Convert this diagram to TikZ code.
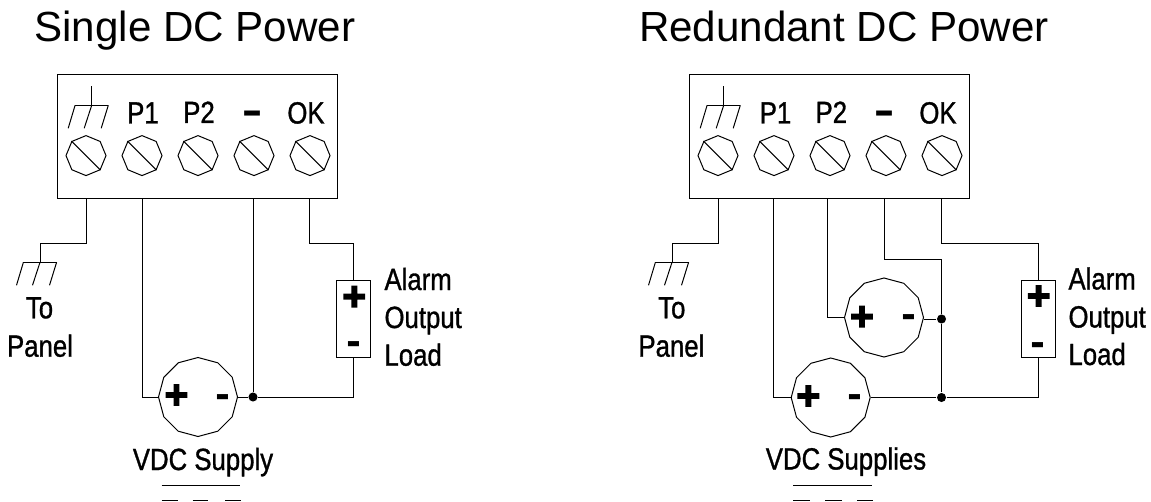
\documentclass[tikz,border=0pt]{standalone}
\usepackage{fontspec}
\setmainfont{Liberation Sans}
\newfontfamily\narrowfont[FakeStretch=0.84,FakeBold=1]{Liberation Sans}
\newfontfamily\signfont[BoldFont={DejaVu Sans Bold}]{DejaVu Sans}
\newfontfamily\plusfont[FakeBold=12]{DejaVu Sans}
\usetikzlibrary{shapes.geometric}
\tikzset{
  x=0.75pt,y=-0.75pt,
  every path/.style={line width=0.75pt,line join=miter},
  termbox/.style={draw,rectangle,inner sep=0pt,minimum width=210pt,minimum height=92.4pt},
  screw/.style={draw,regular polygon,regular polygon sides=8,shape border rotate=-22.5,minimum size=30pt,inner sep=0pt},
  supply/.style={draw,regular polygon,regular polygon sides=12,shape border rotate=15,minimum size=59.25pt,inner sep=0pt},
  loadbox/.style={draw,rectangle,inner sep=0pt,minimum width=25.5pt,minimum height=58pt},
  dot/.style={circle,fill=black,inner sep=0pt,minimum size=6.8pt},
  title/.style={anchor=base west,inner sep=0pt,font=\fontsize{31.6pt}{36pt}\selectfont},
  label/.style={anchor=base,inner sep=0pt,font=\narrowfont\fontsize{23pt}{26pt}\selectfont},
  labelw/.style={anchor=base west,inner sep=0pt,font=\narrowfont\fontsize{23pt}{26pt}\selectfont},
  plussign/.style={anchor=base,inner sep=0pt,yshift=0.15pt,font=\plusfont\fontsize{22pt}{26pt}\selectfont},
  minussign/.style={anchor=base,inner sep=0pt,font=\signfont\bfseries\fontsize{27pt}{30pt}\selectfont},
  tdash/.style={anchor=base,inner sep=0pt,font=\signfont\bfseries\fontsize{30pt}{34pt}\selectfont},
}
\newcommand{\gndsym}[2]{% x of the middle tie, y of the bar
  \draw ({#1-16.6},#2) -- ({#1+16.6},#2);
  \draw ({#1-16.6},#2) -- ({#1-23.5},{#2+23});
  \draw (#1,#2) -- ({#1-7.5},{#2+23});
  \draw ({#1+16.6},#2) -- ({#1+9.5},{#2+23});
}
\begin{document}
\begin{tikzpicture}
\useasboundingbox (0,0) rectangle (1151,502);

% ---------- titles
\node[title] (t1) at (34,42) {Single DC Power};
\node[title] (t2) at (638.5,42) {Redundant DC Power};

% ---------- left terminal block
\node[termbox] (boxL) at (197.5,136.6) {};
\foreach \n/\xx in {a/86,b/142,c/198,d/254,e/310}{
  \node[screw] (L\n) at (\xx,155.6) {};
  \draw (L\n.corner 3) -- (L\n.corner 7);
}
\draw (91.7,86.5) -- (91.7,105.3);
\gndsym{91.7}{105.3}
\node[label] (lp1) at (143,123.5) {P1};
\node[label] (lp2) at (199,123) {P2};
\node[tdash] (lm) at (252,124.3) {–};
\node[label] (lok) at (306,123.5) {OK};

% ---------- left circuit
\node[supply] (supL) at (198,397) {};
\node[plussign] (supLp) at (176.5,404.4) {+};
\node[minussign] (supLm) at (222.7,407.7) {-};
\node[loadbox] (loadL) at (353.7,318.7) {};
\node[plussign] (loadLp) at (354.3,306) {+};
\node[minussign] (loadLm) at (353.7,354.3) {-};
\node[dot] (dotL) at (253,397) {};
\coordinate (gL) at (40,262.3);
\draw (boxL.south -| 86.5,0) |- (gL |- 0,243.3) -- (gL);
\gndsym{40}{262.3}
\draw (boxL.south -| 142,0) |- (supL.west);
\draw (boxL.south -| 253,0) -- (dotL);
\draw (boxL.south -| 309,0) |- (loadL.north |- 0,243.3) -- (loadL.north);
\draw (supL.east) -- (dotL) -| (loadL.south);
\node[label] (toL) at (39.5,318.3) {To};
\node[label] (panL) at (40,356.7) {Panel};
\node[labelw] (a1L) at (384,290) {Alarm};
\node[labelw] (a2L) at (384,328) {Output};
\node[labelw] (a3L) at (384,365.7) {Load};
\node[label] (vL) at (203,470) {VDC Supply};
\draw (161.7,485.7) -- (240,485.7);
\draw (161.7,500.3) -- (177.7,500.3) (192.7,500.3) -- (208.3,500.3) (225,500.3) -- (241,500.3);

% ---------- right terminal block
\node[termbox] (boxR) at (829.85,136.6) {};
\foreach \n/\xx in {a/718,b/774,c/830,d/886,e/942}{
  \node[screw] (R\n) at (\xx,155.6) {};
  \draw (R\n.corner 3) -- (R\n.corner 7);
}
\draw (723.7,86.5) -- (723.7,105.3);
\gndsym{723.7}{105.3}
\node[label] (rp1) at (775.5,123.5) {P1};
\node[label] (rp2) at (831.3,123) {P2};
\node[tdash] (rm) at (884,124.3) {–};
\node[label] (rok) at (938,123.5) {OK};

% ---------- right circuit
\node[supply] (supA) at (884,317.5) {};
\node[supply] (supB) at (830.7,397.5) {};
\node[plussign] (supAp) at (862,326) {+};
\node[minussign] (supAm) at (909,327.7) {-};
\node[plussign] (supBp) at (808.3,405.4) {+};
\node[minussign] (supBm) at (855,407.7) {-};
\node[loadbox] (loadR) at (1038,318.7) {};
\node[plussign] (loadRp) at (1038.7,305.4) {+};
\node[minussign] (loadRm) at (1037.7,355) {-};
\node[dot] (dotA) at (941.5,319) {};
\node[dot] (dotB) at (941.5,397.5) {};
\coordinate (gR) at (672,262.3);
\draw (boxR.south -| 718.7,0) |- (gR |- 0,243.3) -- (gR);
\gndsym{672}{262.3}
\draw (boxR.south -| 773.5,0) |- (supB.west);
\draw (boxR.south -| 827.7,0) |- (supA.west);
\draw (boxR.south -| 884.7,0) |- (dotA |- 0,259.3) -- (dotA) -- (dotB);
\draw (boxR.south -| 941,0) |- (loadR.north |- 0,243.3) -- (loadR.north);
\draw (supA.east |- dotA) -- (dotA);
\draw (supB.east) -- (dotB) -| (loadR.south);
\node[label] (toR) at (671.8,318.3) {To};
\node[label] (panR) at (671.4,356.7) {Panel};
\node[labelw] (a1R) at (1068,289.5) {Alarm};
\node[labelw] (a2R) at (1068,327.5) {Output};
\node[labelw] (a3R) at (1068,365) {Load};
\node[label] (vR) at (846,469.5) {VDC Supplies};
\draw (793.3,485.7) -- (871.7,485.7);
\draw (793.3,500.3) -- (810,500.3) (825,500.3) -- (842,500.3) (857.3,500.3) -- (873.3,500.3);
\end{tikzpicture}
\end{document}
